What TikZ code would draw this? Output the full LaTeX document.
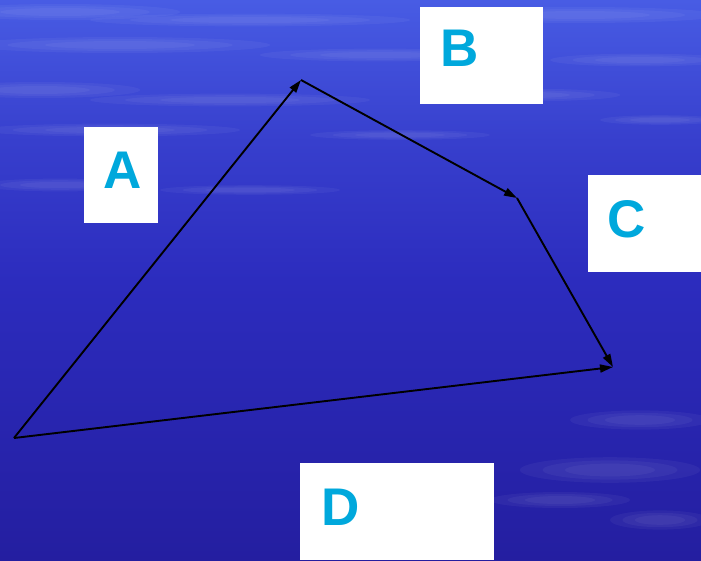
\documentclass[tikz,border=0pt]{standalone}
\usepackage{fontspec}
\setmainfont{Liberation Sans}
\usetikzlibrary{arrows.meta}
\definecolor{bgtop}{RGB}{72,92,228}
\definecolor{bgmid}{RGB}{44,44,190}
\definecolor{bgbot}{RGB}{36,30,160}
\definecolor{lettercyan}{RGB}{0,168,220}
\tikzset{
  labelbox/.style={fill=white, draw=none, inner sep=0pt},
  letter/.style={text=lettercyan, font=\fontsize{53}{53}\selectfont\bfseries, inner sep=0pt, anchor=north west},
  vec/.style={draw=black, line width=1.9pt, -{Triangle[length=13pt,width=8pt]}},
  streak/.style={fill=white, opacity=0.045, draw=none}
}
\begin{document}
\begin{tikzpicture}[x=1pt,y=-1pt]
\useasboundingbox (0,0) rectangle (701,560);
% background
\shade[top color=bgtop, bottom color=bgmid, middle color=bgmid!60!bgtop] (0,0) rectangle (701,280);
\shade[top color=bgmid, bottom color=bgbot] (0,280) rectangle (701,560);
% soft streaks (stacked for blur)
\foreach \cx/\cy/\rx/\ry in {60/12/120/5, 250/20/160/4, 580/15/140/5, 120/45/150/5, 380/55/120/4, 640/60/90/4, 40/90/100/5, 230/100/140/4, 520/95/100/4, 110/130/130/4, 400/135/90/3, 660/120/60/3, 60/185/80/4, 250/190/90/3, 640/420/70/6, 610/470/90/8, 560/500/70/5, 660/520/50/6}{
  \foreach \s in {1.0,0.75,0.5}{
    \fill[streak] (\cx,\cy) ellipse [x radius=\s*\rx, y radius=\s*\ry*1.6];
  }
}
% label boxes
\fill[labelbox] (84,127) rectangle (158,223);
\fill[labelbox] (420,7) rectangle (543,104);
\fill[labelbox] (588,175) rectangle (701,272);
\fill[labelbox] (300,463) rectangle (494,560);
\node[letter] (la) at (103,152) {A};
\node[letter] (lb) at (440,30) {B};
\node[letter] (lc) at (607,200) {C};
\node[letter] (ld) at (321,489) {D};
% vector chain
\coordinate (p0) at (14,438);
\coordinate (p1) at (301,80);
\coordinate (p2) at (517,198);
\coordinate (p3) at (613,367);
\draw[vec] (p0) -- (p1);
\draw[vec] (p1) -- (p2);
\draw[vec] (p2) -- (p3);
\draw[vec] (p0) -- (p3);
\end{tikzpicture}
\end{document}
